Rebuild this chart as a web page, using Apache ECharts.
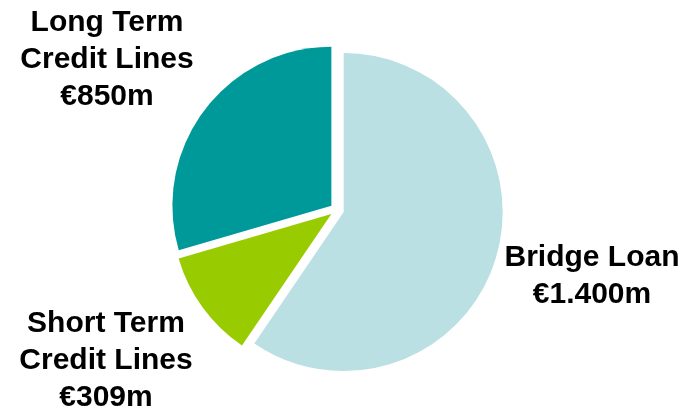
<!DOCTYPE html>
<html>
<head>
<meta charset="utf-8">
<script src="https://cdn.jsdelivr.net/npm/echarts@6/dist/echarts.min.js"></script>
<style>
  html, body { margin: 0; padding: 0; background: #fff; }
  #chart { width: 688px; height: 416px; }
</style>
</head>
<body>
<div id="chart"></div>
<script>
// 切片顺序：从 12 点钟方向顺时针
var categories = ['Bridge Loan', 'Short Term\nCredit Lines', 'Long Term\nCredit Lines'];
// 标签上的金额（百万欧元）
var amounts = [1400, 309, 850];
// 图上量出来的扇形占比（%）
var shares = [59.5, 11, 29.5];
var colors = ['#bbe0e3', '#99cc00', '#009999'];

// 标签中心点
var labelPos = [[592, 276], [106, 361], [107, 60]];

function fmtAmount(v) {
	var s = String(v);
	if (s.length > 3) {
		s = s.slice(0, s.length - 3) + '.' + s.slice(s.length - 3);
	}
	return '€' + s + 'm';
}

var chart = echarts.init(document.getElementById('chart'));

var pieData = [];
var labels = [];
for (var i = 0; i < categories.length; i++) {
	pieData.push({
		name: categories[i],
		value: shares[i],
		selected: true,
		itemStyle: { color: colors[i] }
	});
	labels.push({
		type: 'text',
		x: labelPos[i][0],
		y: labelPos[i][1],
		silent: true,
		style: {
			text: categories[i] + '\n' + fmtAmount(amounts[i]),
			fontFamily: 'Liberation Sans, Arial, sans-serif',
			fontWeight: 'bold',
			fontSize: 30,
			lineHeight: 37,
			fill: '#000',
			textAlign: 'center',
			textVerticalAlign: 'middle'
		}
	});
}

var option = {
	animation: false,
	graphic: labels,
	series: [
		{
			type: 'pie',
			center: [337, 210],
			radius: 159,
			startAngle: 90,
			clockwise: true,
			selectedMode: 'multiple',
			selectedOffset: 7,
			emphasis: { disabled: true },
			label: { show: false },
			labelLine: { show: false },
			data: pieData
		}
	]
};

chart.setOption(option);
</script>
</body>
</html>
